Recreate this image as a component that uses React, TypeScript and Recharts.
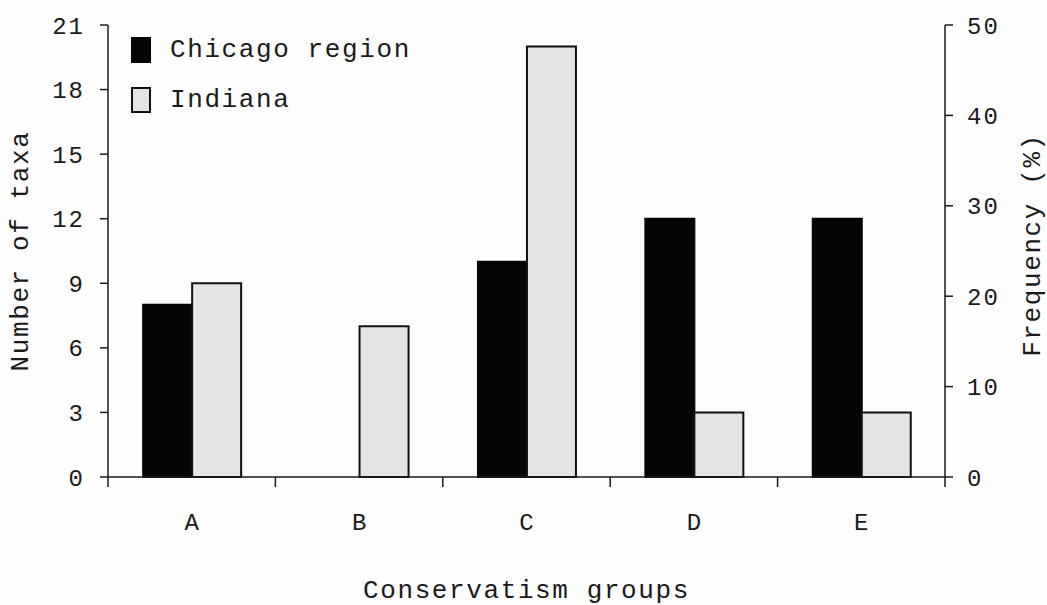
import { BarChart, Bar, XAxis, YAxis, Legend, Label } from "recharts";

const GROUPS = ["A", "B", "C", "D", "E"];
const CHICAGO = [8, 0, 10, 12, 12];
const INDIANA = [9, 7, 20, 3, 3];
const TAXA_TICKS = [0, 3, 6, 9, 12, 15, 18, 21];
const FREQ_TICKS = [0, 10, 20, 30, 40, 50];

const SERIES = [
  { key: "chicago", label: "Chicago region", fill: "#050505", stroke: "#050505" },
  { key: "indiana", label: "Indiana", fill: "#e4e4e4", stroke: "#111" },
];

const data = GROUPS.map((g, i) => ({ group: g, chicago: CHICAGO[i], indiana: INDIANA[i] }));

const FONT = "'Liberation Mono', 'DejaVu Sans Mono', monospace";
const INK = "#1a1a1a";

function GroupTick(props: any) {
  const { x, y, payload, index, visibleTicksCount } = props;
  const half = payload.offset ?? 837 / GROUPS.length / 2;
  const last = index === (visibleTicksCount ?? GROUPS.length) - 1;
  return (
    <g>
      <line x1={x - half} x2={x - half} y1={y} y2={y + 10} stroke={INK} strokeWidth={1.5} />
      {last && <line x1={x + half} x2={x + half} y1={y} y2={y + 10} stroke={INK} strokeWidth={1.5} />}
      <text x={x} y={y + 53} textAnchor="middle" fontFamily={FONT} fontSize={24} fill={INK}>
        {payload.value}
      </text>
    </g>
  );
}

function LegendBox() {
  return (
    <div style={{ fontFamily: FONT, fontSize: 26, letterSpacing: 1.6, color: INK }}>
      {SERIES.map((s) => (
        <div key={s.key} style={{ display: "flex", alignItems: "center", height: 50 }}>
          <span
            style={{
              display: "inline-block",
              width: 16,
              height: 22,
              background: s.fill,
              border: `2px solid ${s.stroke}`,
              marginRight: 19,
            }}
          />
          {s.label}
        </div>
      ))}
    </div>
  );
}

export default function App() {
  return (
    <div style={{ position: "absolute", left: 0, top: 0, width: 1047, height: 605, background: "#fdfdfd" }}>
      <BarChart
        width={1047}
        height={605}
        data={data}
        margin={{ top: 25, right: 0, left: 0, bottom: 0 }}
        barCategoryGap="21%"
        barGap={0}
      >
        <XAxis
          dataKey="group"
          height={128}
          tickLine={false}
          tickSize={0}
          tickMargin={0}
          tick={<GroupTick />}
          axisLine={{ stroke: INK, strokeWidth: 1.5 }}
          interval={0}
        >
          <Label
            content={({ viewBox }: any) => (
              <text
                x={viewBox.x + viewBox.width / 2}
                y={viewBox.y + 121}
                textAnchor="middle"
                fontFamily={FONT}
                fontSize={26}
                letterSpacing={1.6}
                fill={INK}
              >
                Conservatism groups
              </text>
            )}
          />
        </XAxis>
        <YAxis
          yAxisId="taxa"
          width={108}
          domain={[0, 21]}
          ticks={TAXA_TICKS}
          interval={0}
          tickSize={8}
          tickMargin={15}
          axisLine={{ stroke: INK, strokeWidth: 1.5 }}
          tickLine={{ stroke: INK, strokeWidth: 1.5 }}
          tick={{ fontFamily: FONT, fontSize: 24, letterSpacing: 2, fill: INK }}
        >
          <Label
            content={({ viewBox }: any) => {
              const cx = viewBox.x + 21;
              const cy = viewBox.y + viewBox.height / 2;
              return (
                <text
                  x={cx}
                  y={cy}
                  transform={`rotate(-90 ${cx} ${cy})`}
                  textAnchor="middle"
                  dominantBaseline="central"
                  fontFamily={FONT}
                  fontSize={26}
                  letterSpacing={1.6}
                  fill={INK}
                >
                  Number of taxa
                </text>
              );
            }}
          />
        </YAxis>
        <YAxis
          yAxisId="freq"
          orientation="right"
          width={102}
          type="number"
          domain={[0, 50]}
          allowDataOverflow
          ticks={FREQ_TICKS}
          interval={0}
          tickSize={8}
          tickMargin={14}
          axisLine={{ stroke: INK, strokeWidth: 1.5 }}
          tickLine={{ stroke: INK, strokeWidth: 1.5 }}
          tick={{ fontFamily: FONT, fontSize: 24, letterSpacing: 2, fill: INK }}
        >
          <Label
            content={({ viewBox }: any) => {
              const cx = viewBox.x + 88;
              const cy = viewBox.y + viewBox.height / 2 - 6;
              return (
                <text
                  x={cx}
                  y={cy}
                  transform={`rotate(-90 ${cx} ${cy})`}
                  textAnchor="middle"
                  dominantBaseline="central"
                  fontFamily={FONT}
                  fontSize={26}
                  letterSpacing={1.6}
                  fill={INK}
                >
                  Frequency (%)
                </text>
              );
            }}
          />
        </YAxis>
        <Legend
          layout="vertical"
          align="center"
          verticalAlign="middle"
          content={<LegendBox />}
          wrapperStyle={{ left: 131, top: 25, width: "auto" }}
        />
        {SERIES.map((s) => (
          <Bar
            key={s.key}
            yAxisId="taxa"
            dataKey={s.key}
            name={s.label}
            fill={s.fill}
            stroke={s.stroke}
            strokeWidth={2}
            isAnimationActive={false}
          />
        ))}
      </BarChart>
    </div>
  );
}
